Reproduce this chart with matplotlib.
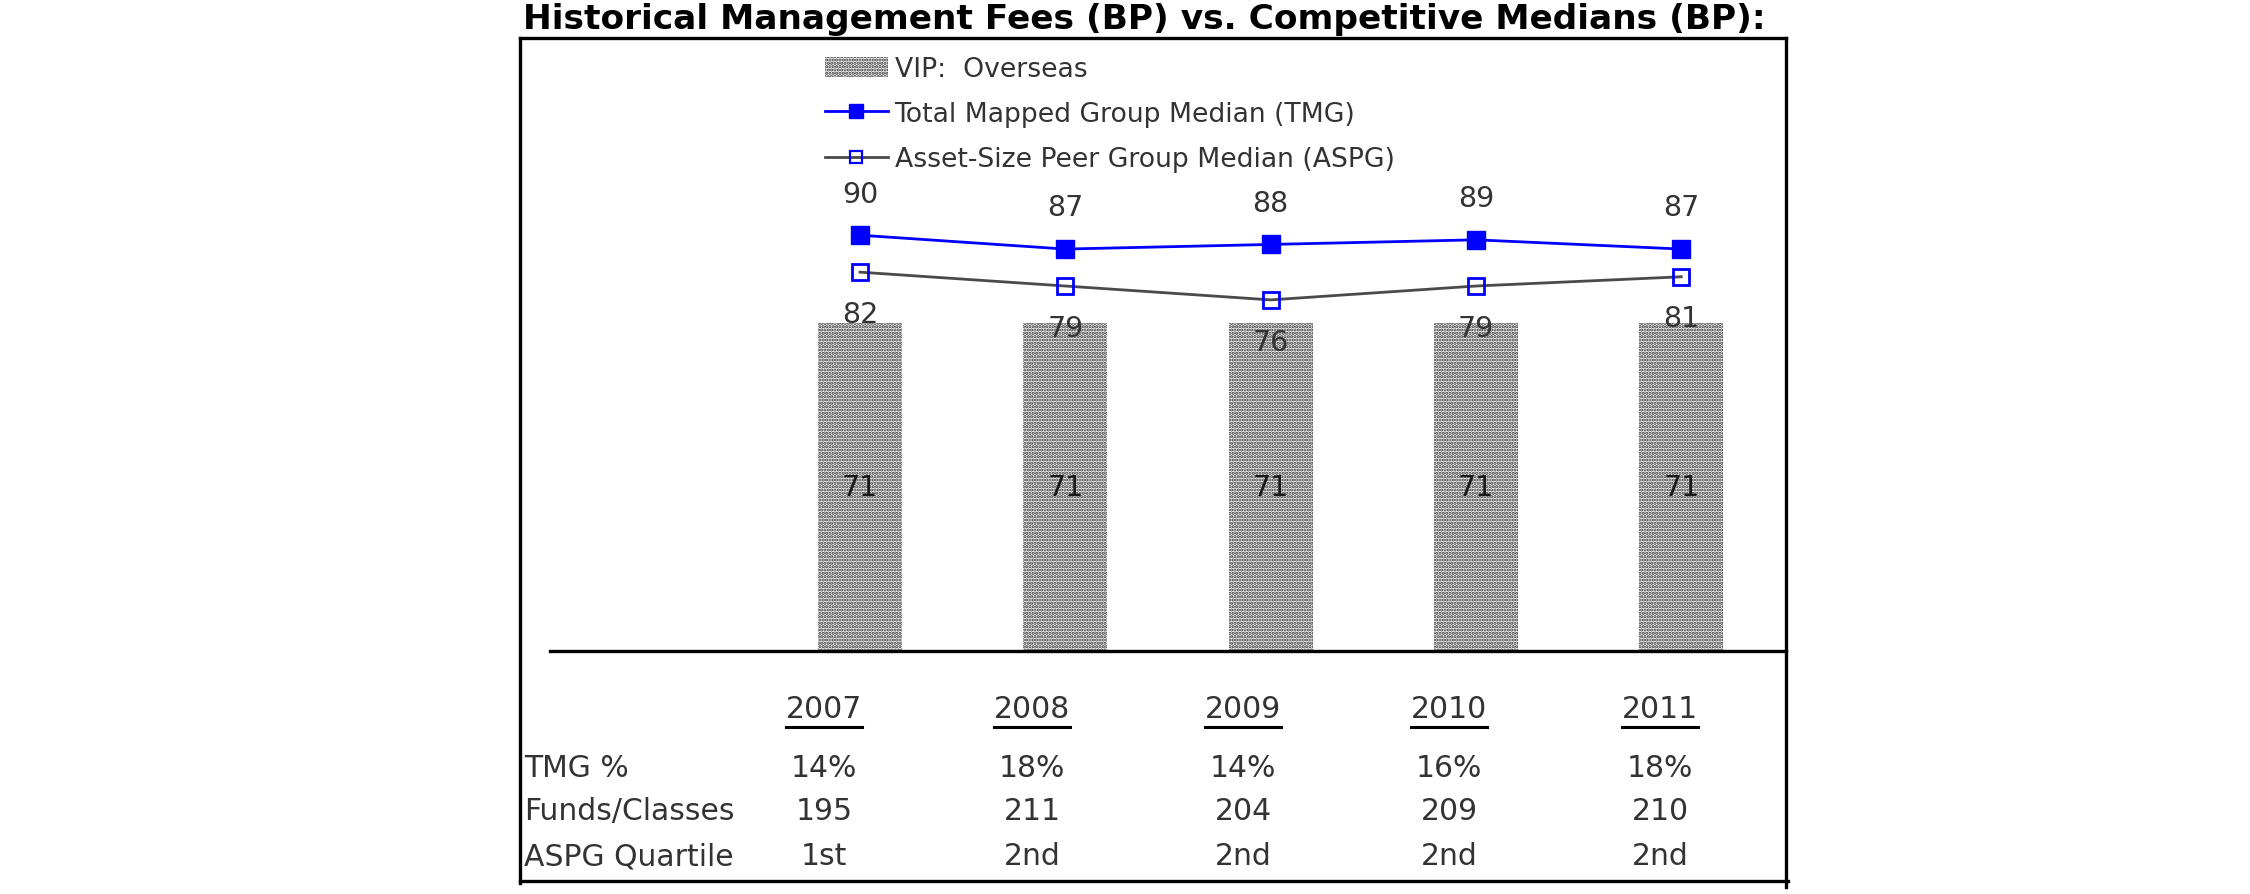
import matplotlib
matplotlib.use("Agg")
import matplotlib.pyplot as plt
from matplotlib.patches import Patch
from matplotlib.lines import Line2D

# ---- data ----
years = ["2007", "2008", "2009", "2010", "2011"]
vip_overseas = [71, 71, 71, 71, 71]
tmg_median = [90, 87, 88, 89, 87]
aspg_median = [82, 79, 76, 79, 81]
row_labels = ["TMG %", "Funds/Classes", "ASPG Quartile"]
tmg_pct = ["14%", "18%", "14%", "16%", "18%"]
funds_classes = ["195", "211", "204", "209", "210"]
aspg_quartile = ["1st", "2nd", "2nd", "2nd", "2nd"]

W, H = 2250, 895
plt.rcParams["font.family"] = ["DejaVu Sans"]
plt.rcParams["hatch.linewidth"] = 1.6

fig = plt.figure(figsize=(W / 100, H / 100), dpi=100)

def fx(px):
    return px / W

def fy(py):
    return 1 - py / H

# main axes
ax_l, ax_r, ax_b, ax_t = 550, 1786, 652, 39
ax = fig.add_axes([fx(ax_l), fy(ax_b), fx(ax_r) - fx(ax_l), fy(ax_t) - fy(ax_b)])
x = list(range(len(years)))
ax.set_xlim(-1.51, 4.51)
ax.set_ylim(0, (ax_b - ax_t) / 4.62)

txt_col = "#333333"
hatch_pat = "....."
hatch_col = "#2e2e2e"
ax.bar(x, vip_overseas, width=0.41, color="white", edgecolor=hatch_col,
       linewidth=0, hatch=hatch_pat, zorder=1)
for xi, v in zip(x, vip_overseas):
    ax.text(xi, v / 2, str(v), ha="center", va="center", fontsize=20.5,
            color="#1a1a1a", zorder=5)

ax.plot(x, tmg_median, color="#0000ff", lw=2.0, marker="s", ms=13,
        mfc="#0000ff", mec="#0000ff", zorder=4)
ax.plot(x, aspg_median, color="#4a4a4a", lw=2.0, marker="s", ms=12,
        mfc="none", mec="#0000ff", mew=2.0, zorder=3)

for xi, v in zip(x, tmg_median):
    ax.annotate(str(v), (xi, v), xytext=(0, 30), textcoords="offset points",
                ha="center", va="center", fontsize=20.5, color=txt_col, zorder=6)
for xi, v in zip(x, aspg_median):
    ax.annotate(str(v), (xi, v), xytext=(0, -30), textcoords="offset points",
                ha="center", va="center", fontsize=20.5, color=txt_col, zorder=6)

for s in ["top", "left", "right"]:
    ax.spines[s].set_visible(False)
ax.spines["bottom"].set_linewidth(2.4)
ax.spines["bottom"].set_color("black")
ax.set_xticks([])
ax.set_yticks([])
ax.patch.set_alpha(0)

# legend
handles = [
    Patch(facecolor="white", edgecolor=hatch_col, linewidth=0, hatch=hatch_pat),
    Line2D([], [], color="#0000ff", lw=2.0, marker="s", ms=10, mfc="#0000ff", mec="#0000ff"),
    Line2D([], [], color="#4a4a4a", lw=2.0, marker="s", ms=8, mfc="none", mec="#0000ff", mew=1.6),
]
labels = ["VIP:  Overseas", "Total Mapped Group Median (TMG)", "Asset-Size Peer Group Median (ASPG)"]
leg = fig.legend(handles, labels, loc="upper left", bbox_to_anchor=(fx(825), fy(57)),
                 bbox_transform=fig.transFigure, frameon=False, fontsize=19.2,
                 handlelength=2.35, handleheight=0.8, handletextpad=0.26,
                 labelspacing=0.72, borderpad=0, borderaxespad=0)
for t in leg.get_texts():
    t.set_color(txt_col)

# title
title = fig.text(fx(523), fy(19), "Historical Management Fees (BP) vs. Competitive Medians (BP):",
                 ha="left", va="center", fontsize=20, fontweight="bold", color="black")

# outer box
lw_box = 2.4
fig.add_artist(Line2D([fx(520), fx(1786)], [fy(39), fy(39)], color="black", lw=lw_box,
                      transform=fig.transFigure))
fig.add_artist(Line2D([fx(520), fx(520)], [fy(39), fy(884)], color="black", lw=lw_box,
                      transform=fig.transFigure))
fig.add_artist(Line2D([fx(1786), fx(1786)], [fy(39), fy(888)], color="black", lw=lw_box,
                      transform=fig.transFigure))
fig.add_artist(Line2D([fx(520), fx(1788)], [fy(882), fy(882)], color="black", lw=lw_box,
                      transform=fig.transFigure))

# table below chart
col_x = [824, 1032, 1243, 1449, 1660]
year_y = 710
row_y = [769, 812, 857]
tfs = 21.5
year_texts = []
for cx, yr in zip(col_x, years):
    year_texts.append(fig.text(fx(cx), fy(year_y), yr, ha="center", va="center",
                               fontsize=tfs, color=txt_col))
for ry, lab in zip(row_y, row_labels):
    fig.text(fx(524), fy(ry), lab, ha="left", va="center", fontsize=tfs, color=txt_col)
for ry, vals in zip(row_y, [tmg_pct, funds_classes, aspg_quartile]):
    for cx, v in zip(col_x, vals):
        fig.text(fx(cx), fy(ry), v, ha="center", va="center", fontsize=tfs, color=txt_col)

# fit title width and underline years
fig.canvas.draw()
r = fig.canvas.get_renderer()
bb = title.get_window_extent(r)
title.set_fontsize(20 * 1244 / bb.width)
for t in year_texts:
    b = t.get_window_extent(r)
    yline = b.y0 - 3
    fig.add_artist(Line2D([b.x0 / W, b.x1 / W], [yline / H, yline / H], color="black",
                          lw=2.2, transform=fig.transFigure))

fig.savefig("out.png", dpi=100, facecolor="white")
